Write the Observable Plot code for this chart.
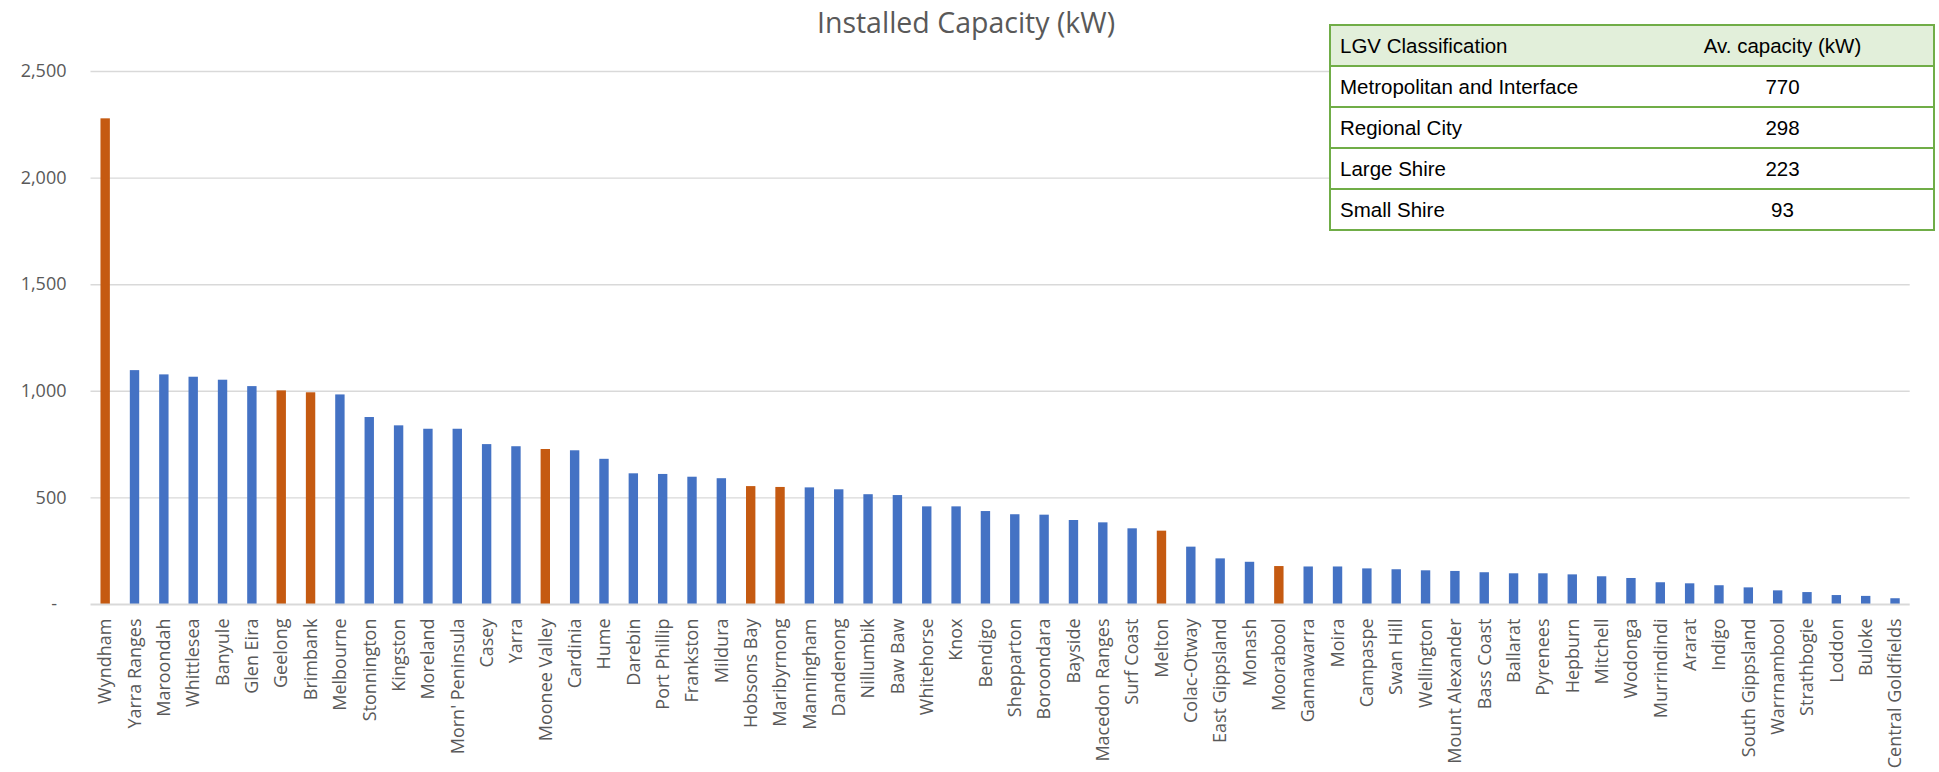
<!DOCTYPE html>
<html>
<head>
<meta charset="utf-8">
<script src="https://cdn.jsdelivr.net/npm/d3@7"></script>
<script src="https://cdn.jsdelivr.net/npm/@observablehq/plot@0.6"></script>
<style>
  html, body { margin: 0; padding: 0; background: #ffffff; }
  #wrap { position: relative; width: 1939px; height: 772px; overflow: hidden; background: #fff; }
  #chart { position: absolute; left: 0; top: 0; }
  #title { position: absolute; left: 0; width: 1932px; top: 8px; line-height: 28px; text-align: center;
           font-family: "Open Sans", sans-serif; font-size: 28.5px; color: #595959; white-space: nowrap; }
  #lgv { position: absolute; left: 1329px; top: 24px; width: 606px; border-collapse: collapse;
         font-family: "Liberation Sans", Arial, sans-serif; font-size: 20.5px; color: #000; background: #fff; }
  #lgv td { border: 2px solid #70AD47; height: 39px; padding: 0; vertical-align: middle; }
  #lgv td.c1 { width: 292px; padding-left: 9px; text-align: left; border-right: none; }
  #lgv td.c2 { text-align: center; border-left: none; }
  #lgv tr.head td { background: #E2EFDA; }
</style>
</head>
<body>
<div id="wrap">
  <div id="chart"></div>
  <div id="title">Installed Capacity (kW)</div>
  <table id="lgv"></table>
</div>
<script>
const councils = ["Wyndham","Yarra Ranges","Maroondah","Whittlesea","Banyule","Glen Eira","Geelong","Brimbank","Melbourne","Stonnington","Kingston","Moreland","Morn' Peninsula","Casey","Yarra","Moonee Valley","Cardinia","Hume","Darebin","Port Phillip","Frankston","Mildura","Hobsons Bay","Maribyrnong","Manningham","Dandenong","Nillumbik","Baw Baw","Whitehorse","Knox","Bendigo","Shepparton","Boroondara","Bayside","Macedon Ranges","Surf Coast","Melton","Colac-Otway","East Gippsland","Monash","Moorabool","Gannawarra","Moira","Campaspe","Swan Hill","Wellington","Mount Alexander","Bass Coast","Ballarat","Pyrenees","Hepburn","Mitchell","Wodonga","Murrindindi","Ararat","Indigo","South Gippsland","Warrnambool","Strathbogie","Loddon","Buloke","Central Goldfields"];
const capacity = [2278,1097,1077,1066,1052,1022,1002,993,983,877,838,822,822,750,740,727,721,681,613,610,597,590,553,549,547,538,515,511,458,458,436,421,419,394,383,355,344,269,214,198,178,176,176,167,163,158,155,149,144,144,139,130,122,102,97,88,78,64,56,42,38,27];
const highlighted = ["Wyndham","Geelong","Brimbank","Moonee Valley","Hobsons Bay","Maribyrnong","Melton","Moorabool"];
const yTicks = [0, 500, 1000, 1500, 2000, 2500];
const tableHeader = ["LGV Classification", "Av. capacity (kW)"];
const lgvClasses = ["Metropolitan and Interface", "Regional City", "Large Shire", "Small Shire"];
const lgvAverages = [770, 298, 223, 93];

const data = councils.map((name, i) => ({name, value: capacity[i], group: highlighted.includes(name) ? "highlight" : "other"}));

const fmt = d3.format(",");
const chart = Plot.plot({
  width: 1939,
  height: 772,
  marginLeft: 90.5,
  marginRight: 29.3,
  marginTop: 71,
  marginBottom: 168,
  style: { fontFamily: "Open Sans, sans-serif", fontSize: "18px", color: "#595959", background: "#fff" },
  x: { domain: councils, paddingInner: 0.68, paddingOuter: 0.34, round: false, label: null },
  y: { domain: [0, 2500], label: null },
  color: { domain: ["other", "highlight"], range: ["#4472C4", "#C55A11"] },
  marks: [
    Plot.ruleY(yTicks.filter(d => d > 0), { stroke: "#d9d9d9", strokeWidth: 1.4 }),
    Plot.barY(data, { x: "name", y: "value", fill: "group" }),
    Plot.ruleY([0], { stroke: "#d9d9d9", strokeWidth: 2 }),
    Plot.axisY({ ticks: yTicks, tickSize: 0, tickPadding: 24.5, label: null, fontSize: 18,
                 tickFormat: d => d === 0 ? "-\u00a0\u00a0" : fmt(d) }),
    Plot.axisX({ tickSize: 0, tickPadding: 14, tickRotate: -90, label: null, fontSize: 18 })
  ]
});
document.getElementById("chart").appendChild(chart);

const table = document.getElementById("lgv");
const rows = [tableHeader].concat(lgvClasses.map((c, i) => [c, String(lgvAverages[i])]));
rows.forEach((r, i) => {
  const tr = document.createElement("tr");
  if (i === 0) tr.className = "head";
  r.forEach((cell, j) => {
    const td = document.createElement("td");
    td.className = j === 0 ? "c1" : "c2";
    td.textContent = cell;
    tr.appendChild(td);
  });
  table.appendChild(tr);
});
</script>
</body>
</html>
